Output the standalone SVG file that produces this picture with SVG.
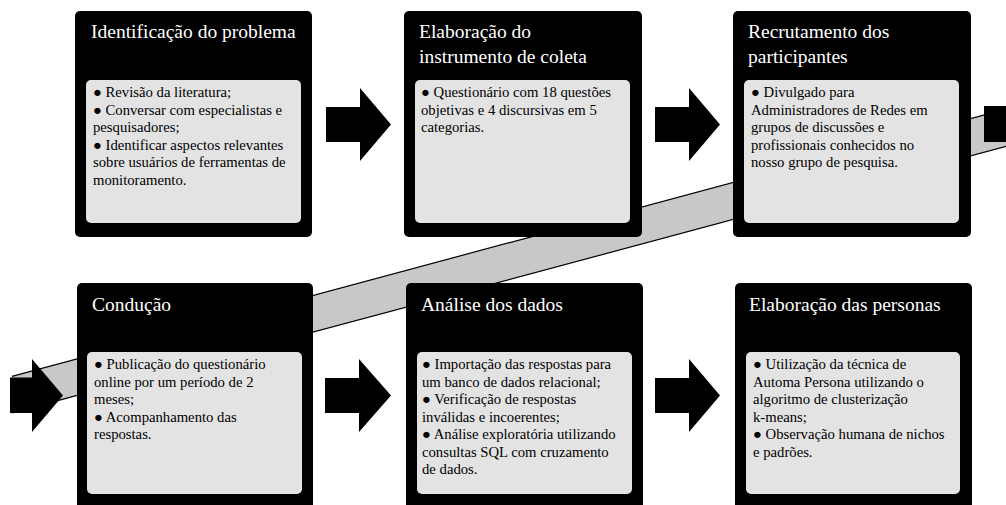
<svg xmlns="http://www.w3.org/2000/svg" width="1006" height="505" viewBox="0 0 1006 505">
<style>
  .box { fill: #000000; }
  .inner { fill: #e3e3e3; }
  .title { font-family: "Liberation Serif", "Times New Roman", serif; font-size: 19.5px; fill: #ffffff; }
  .body { font-family: "Liberation Serif", "Times New Roman", serif; font-size: 14.7px; fill: #000000; }
  .arrow { fill: #000000; }
  .band { fill: #c8c8c8; stroke: none; }
  .bandedge { stroke: #000000; stroke-width: 1.2; fill: none; }
</style>
<rect width="1006" height="505" fill="#ffffff"/>

<g id="flow-band">
  <polygon class="band" points="12,376.4 1010,108 1010,145.3 12,412.8"/>
  <line class="bandedge" x1="12" y1="376.4" x2="1010" y2="108"/>
  <line class="bandedge" x1="12" y1="412.8" x2="1010" y2="145.3"/>
</g>

<g id="node-identificacao">
  <rect class="box" x="75" y="11" width="237" height="226" rx="5"/>
  <rect class="inner" x="86" y="80" width="215" height="143" rx="5"/>
  <text class="title" x="91" y="37.5">Identificação do problema</text>
  <text class="body" y="97">
    <tspan x="93">● Revisão da literatura;</tspan>
    <tspan x="93" dy="17.5">● Conversar com especialistas e</tspan>
    <tspan x="93" dy="17.5">pesquisadores;</tspan>
    <tspan x="93" dy="17.5">● Identificar aspectos relevantes</tspan>
    <tspan x="93" dy="17.5">sobre usuários de ferramentas de</tspan>
    <tspan x="93" dy="17.5">monitoramento.</tspan>
  </text>
</g>

<g id="node-instrumento">
  <rect class="box" x="404" y="11" width="238" height="226" rx="5"/>
  <rect class="inner" x="415" y="80" width="215" height="143" rx="5"/>
  <text class="title" y="37.5">
    <tspan x="419">Elaboração do</tspan>
    <tspan x="419" dy="25">instrumento de coleta</tspan>
  </text>
  <text class="body" y="97">
    <tspan x="421">● Questionário com 18 questões</tspan>
    <tspan x="421" dy="17.5">objetivas e 4 discursivas em 5</tspan>
    <tspan x="421" dy="17.5">categorias.</tspan>
  </text>
</g>

<g id="node-recrutamento">
  <rect class="box" x="733" y="11" width="238" height="226" rx="5"/>
  <rect class="inner" x="744" y="80" width="215" height="143" rx="5"/>
  <text class="title" y="37.5">
    <tspan x="748">Recrutamento dos</tspan>
    <tspan x="748" dy="25">participantes</tspan>
  </text>
  <text class="body" y="97">
    <tspan x="751">● Divulgado para</tspan>
    <tspan x="751" dy="17.5">Administradores de Redes em</tspan>
    <tspan x="751" dy="17.5">grupos de discussões e</tspan>
    <tspan x="751" dy="17.5">profissionais conhecidos no</tspan>
    <tspan x="751" dy="17.5">nosso grupo de pesquisa.</tspan>
  </text>
</g>

<g id="node-conducao">
  <rect class="box" x="77" y="283" width="236" height="232" rx="5"/>
  <rect class="inner" x="87" y="352" width="215" height="142" rx="5"/>
  <text class="title" x="92" y="310.5">Condução</text>
  <text class="body" y="369">
    <tspan x="94">● Publicação do questionário</tspan>
    <tspan x="94" dy="17.5">online por um período de 2</tspan>
    <tspan x="94" dy="17.5">meses;</tspan>
    <tspan x="94" dy="17.5">● Acompanhamento das</tspan>
    <tspan x="94" dy="17.5">respostas.</tspan>
  </text>
</g>

<g id="node-analise">
  <rect class="box" x="406" y="283" width="237" height="232" rx="5"/>
  <rect class="inner" x="417" y="352" width="215" height="142" rx="5"/>
  <text class="title" x="421" y="310.5">Análise dos dados</text>
  <text class="body" y="369">
    <tspan x="422">● Importação das respostas para</tspan>
    <tspan x="422" dy="17.5">um banco de dados relacional;</tspan>
    <tspan x="422" dy="17.5">● Verificação de respostas</tspan>
    <tspan x="422" dy="17.5">inválidas e incoerentes;</tspan>
    <tspan x="422" dy="17.5">● Análise exploratória utilizando</tspan>
    <tspan x="422" dy="17.5">consultas SQL com cruzamento</tspan>
    <tspan x="422" dy="17.5">de dados.</tspan>
  </text>
</g>

<g id="node-personas">
  <rect class="box" x="735" y="283" width="237" height="232" rx="5"/>
  <rect class="inner" x="746" y="352" width="214" height="142" rx="5"/>
  <text class="title" x="749" y="310.5">Elaboração das personas</text>
  <text class="body" y="369">
    <tspan x="753">● Utilização da técnica de</tspan>
    <tspan x="753" dy="17.5">Automa Persona utilizando o</tspan>
    <tspan x="753" dy="17.5">algoritmo de clusterização</tspan>
    <tspan x="753" dy="17.5">k-means;</tspan>
    <tspan x="753" dy="17.5">● Observação humana de nichos</tspan>
    <tspan x="753" dy="17.5">e padrões.</tspan>
  </text>
</g>

<g id="connectors">
  <polygon class="arrow" points="326,107 360,107 360,88 391,124.5 360,161 360,142 326,142"/>
  <polygon class="arrow" points="655,107 689,107 689,88 720,124.5 689,161 689,142 655,142"/>
  <polygon class="arrow" points="984,106 1018,106 1018,88 1049,124.5 1018,161 1018,142 984,142"/>
  <polygon class="arrow" points="10,377.5 32,377.5 32,359 63,395.5 32,432 32,413 10,413"/>
  <polygon class="arrow" points="325,378 359,378 359,359 391,395.5 359,432 359,413 325,413"/>
  <polygon class="arrow" points="655,378 689,378 689,359 720,395.5 689,432 689,413 655,413"/>
</g>
</svg>
